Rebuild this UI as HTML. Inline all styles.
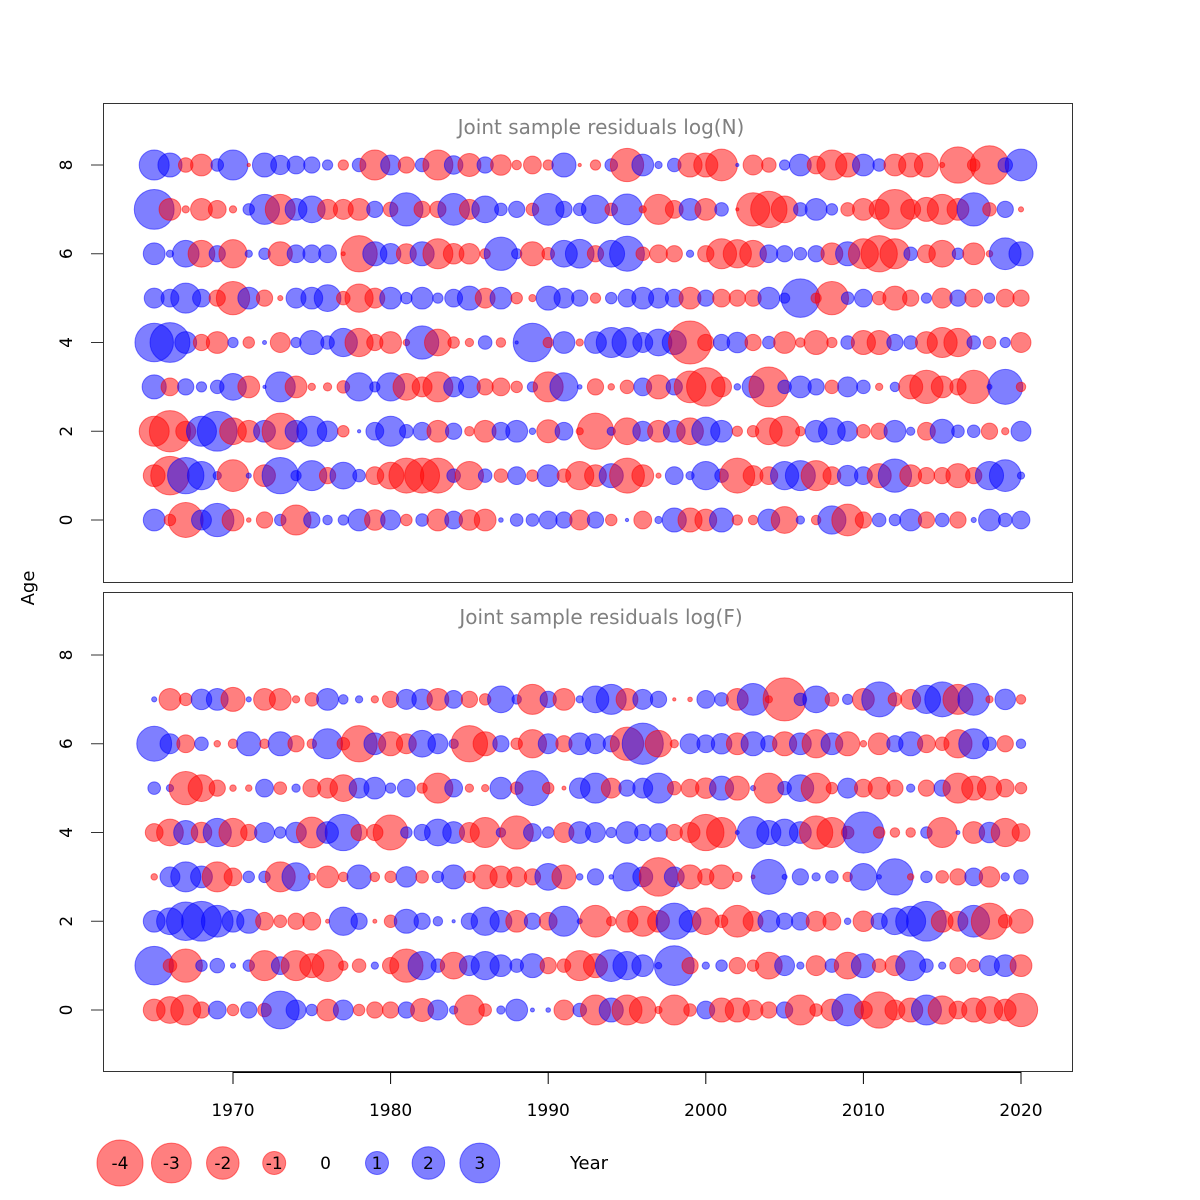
<!DOCTYPE html>
<html><head><meta charset="utf-8">
<style>
html,body{margin:0;padding:0;background:#fff;}
svg{display:block;font-family:"DejaVu Sans","Liberation Sans",sans-serif;}
</style></head>
<body>
<svg id="chart" width="1200" height="1200" viewBox="0 0 1200 1200" xmlns="http://www.w3.org/2000/svg">
  <rect x="0" y="0" width="1200" height="1200" fill="#fff"/>
  <g id="top-panel">
    <rect x="103.5" y="103.5" width="969" height="479" fill="none" stroke="#333" stroke-width="1"/>
    <text x="601" y="134" font-size="20" fill="#808080" text-anchor="middle">Joint sample residuals log(N)</text>
    <g id="top-yaxis"></g>
    <g id="top-bubbles"></g>
  </g>
  <g id="bot-panel">
    <rect x="103.5" y="592.5" width="969" height="479" fill="none" stroke="#333" stroke-width="1"/>
    <text x="601" y="624" font-size="20" fill="#808080" text-anchor="middle">Joint sample residuals log(F)</text>
    <g id="bot-yaxis"></g>
    <g id="bot-bubbles"></g>
  </g>
  <g id="xaxis"></g>
  <text x="34" y="588" font-size="18" fill="#000" text-anchor="middle" transform="rotate(-90 34 588)">Age</text>
  <g id="legend"></g>
  <text x="589" y="1169" font-size="18" fill="#000" text-anchor="middle">Year</text>
</svg>
<script>
const years = [];
for (let y = 1965; y <= 2020; y++) years.push(y);
const xTicks = [1970, 1980, 1990, 2000, 2010, 2020];
const yTicks = [0, 2, 4, 6, 8];
const legendValues = [-4, -3, -2, -1, 0, 1, 2, 3];

const topAge8 = [1.7,1.1,-0.4,-0.9,0.3,1.7,-0.02,1.1,0.7,0.6,0.5,0.2,-0.2,0.35,-1.7,0.75,-0.5,0.35,
 -1.7,0.65,-1.0,0.5,-0.8,-0.17,-0.6,-0.2,1.1,-0.02,-0.2,0.3,-2.1,0.9,0.1,0.35,-1.1,-1.1,-1.9,0.02,-0.75,
 -0.4,0.2,0.9,-0.6,-1.7,-1.1,0.9,0.3,-0.9,-1.1,-1.1,-0.05,-2.5,-0.3,-2.8,0.4,1.9];
const topAge7 = [3.0,-0.9,-0.1,-0.9,-0.6,-0.1,0.25,1.7,-1.7,0.9,1.35,-0.75,-0.75,-0.9,0.5,-0.4,2.1,-0.5,
 -0.5,1.9,-0.75,1.35,0.3,0.5,-0.3,1.9,0.5,0.3,1.5,-0.3,1.8,-0.1,-1.7,-0.6,0.9,-0.9,0.35,-0.02,-2.1,
 -2.5,-1.35,0.35,0.9,0.25,-0.35,-0.9,-0.75,-3.0,-0.75,-1.1,-1.7,-0.9,2.1,-0.35,0.5,-0.05];
const topAge6 = [0.9,0.1,1.35,-1.35,0.5,-1.5,0.1,0.25,-1.1,0.6,0.6,0.6,-0.03,-2.5,1.1,0.8,-0.75,1.1,
 -1.7,-0.8,-0.8,-0.2,2.1,0.2,-1.1,-0.3,1.35,1.55,-0.5,1.35,2.3,-0.35,-0.6,-0.5,0.1,-0.5,-1.7,-1.5,-1.35,
 0.6,0.5,0.3,0.5,-0.9,1.1,-1.7,-2.5,-1.7,0.35,-0.6,-1.35,0.25,-0.9,-0.08,1.9,1.1];
const topAge5 = [0.75,0.6,1.7,0.6,-0.5,-2.1,0.9,-0.5,-0.05,0.75,0.9,1.35,-0.35,-1.5,-0.75,0.9,0.25,0.9,
 0.2,0.6,1.1,-0.75,0.9,-0.25,-0.1,1.1,0.75,0.5,-0.2,0.25,0.6,0.9,0.75,0.6,-0.9,0.5,-0.6,-0.5,-0.5,
 0.9,0.2,2.8,-0.2,-2.1,0.3,0.6,-0.35,-1.1,-0.5,0.2,-0.75,0.5,-0.6,0.2,-0.6,-0.5];
const topAge4 = [2.8,3.0,0.9,-0.5,-0.9,0.2,-0.25,0.03,-0.75,0.2,1.1,0.35,1.5,-1.5,-0.5,-0.9,-0.08,2.1,
 -1.35,-0.25,-0.13,0.35,-0.17,0.02,2.8,-0.2,0.9,-0.1,0.9,1.7,1.7,0.75,1.35,1.1,-3.5,-0.5,0.5,0.8,-0.5,
 0.3,-0.9,-0.17,-1.1,-0.2,0.35,-1.1,-1.1,0.5,0.35,-0.9,-1.7,-1.5,0.35,-0.3,0.2,-0.75];
const topAge3 = [1.1,-0.6,0.5,0.2,0.35,1.35,-0.9,0.02,1.7,-0.9,-0.1,-0.13,-0.3,1.5,0.2,1.5,-1.35,-0.75,
 -1.7,0.75,0.9,-0.5,-0.6,-0.25,0.2,-1.7,1.5,0.04,-0.5,-0.08,-0.35,0.6,-1.1,0.5,-1.9,-2.8,-0.75,0.08,0.9,
 -3.0,0.35,0.9,0.5,-0.35,0.75,0.35,-0.1,0.17,-1.1,-2.1,-0.9,-0.5,-2.1,0.05,2.3,-0.17];
const topAge2 = [-1.7,-3.2,-0.75,1.7,3.0,-1.35,-0.9,0.9,-2.5,0.9,1.7,0.8,-0.25,0.02,0.6,1.7,0.35,0.6,
 -0.9,0.5,-0.17,-0.9,0.6,0.9,0.08,-1.0,0.6,-0.1,-2.5,0.13,-1.35,0.75,-0.9,0.9,-1.35,1.5,0.9,-0.2,-0.25,
 -1.35,-1.7,-0.17,0.9,1.35,0.75,-0.35,-0.5,0.9,0.13,-0.6,1.1,0.3,0.3,-0.5,-0.1,0.75];
const topAge1 = [-0.9,-2.8,2.5,1.5,0.13,-1.9,0.05,-0.9,2.5,0.2,1.7,-0.5,1.35,0.3,-0.6,-1.35,-2.3,-2.3,
 -2.3,0.35,-1.5,0.35,-0.35,0.6,-0.25,0.9,-0.35,-1.5,-0.9,1.1,-2.3,-0.9,-0.05,0.6,0.13,1.5,0.35,-2.3,-0.75,
 -0.6,1.5,1.7,-1.7,-0.6,0.8,0.6,-1.1,2.1,-0.9,-0.5,-0.5,-1.1,-0.5,1.5,1.9,0.1];
const topAge0 = [0.9,-0.25,-2.3,0.75,2.1,-0.9,-0.04,-0.5,0.25,-1.7,0.5,0.17,0.2,0.9,-0.8,0.75,-0.25,0.3,
 -0.9,0.6,-0.8,-0.9,0.04,0.3,0.3,0.6,0.5,-0.75,0.5,-0.25,0.02,-0.6,0.1,1.1,-1.1,-0.9,1.1,-0.2,-0.17,
 0.9,-1.35,0.13,-0.17,1.5,-1.9,-0.5,0.35,0.25,0.9,-0.5,0.35,-0.5,0.05,0.9,0.35,0.6];

const botAge7 = [0.05,-0.9,-0.3,0.8,0.9,-1.1,0.05,-0.9,-0.9,-0.1,-0.35,0.9,0.17,0.1,-0.1,-0.5,0.75,0.8,
 -0.9,0.6,-0.5,-0.25,1.35,0.17,-1.7,0.5,-0.9,0.1,1.35,1.7,-0.9,0.75,0.5,-0.02,-0.04,0.6,0.35,-0.9,1.9,
 -0.1,-3.5,0.3,1.35,-0.35,0.2,-0.9,2.3,-0.35,-0.75,1.5,2.3,-1.7,1.9,-0.1,0.8,-0.17];
const botAge6 = [2.3,0.75,-0.6,0.35,-0.08,-0.17,1.1,-0.17,1.1,-0.5,-0.17,1.7,-0.3,-2.5,0.9,-1.1,-0.75,1.35,
 0.75,0.17,-2.5,-1.1,0.5,-0.25,-1.5,0.75,-0.5,0.9,0.75,0.5,-2.1,3.2,-1.35,-0.13,0.75,0.6,0.8,-0.9,1.1,
 0.5,-1.1,0.9,-1.5,0.9,-1.1,-0.08,-0.9,0.5,1.1,-0.6,-0.35,-1.5,1.7,0.35,-0.5,0.17];
const botAge5 = [0.3,0.1,-2.1,-1.35,-0.5,-0.08,-0.08,0.6,-0.3,0.13,-0.6,-0.75,-1.35,0.75,0.9,0.2,0.6,-0.2,
 -1.7,0.6,-0.13,-0.1,0.9,-0.3,2.3,-0.25,-0.03,0.8,1.7,-0.75,0.5,0.75,1.7,-0.35,-0.6,-0.8,1.1,-1.1,0.05,
 -1.7,0.35,1.35,-1.7,-0.25,0.75,-0.6,-0.9,-0.5,0.13,-0.5,0.5,-1.7,-1.1,-1.1,-0.6,-0.25];
const botAge4 = [-0.6,-1.35,1.1,-0.8,1.5,-1.5,-0.5,0.75,0.25,0.8,-1.8,0.9,2.5,-0.5,-0.5,-2.3,0.25,0.5,
 1.35,0.9,-0.75,-1.7,0.17,-2.1,0.6,0.25,-0.75,0.9,0.75,0.2,0.9,0.5,0.6,-0.5,-0.75,-2.5,-1.7,0.03,1.9,
 1.1,1.35,0.9,-2.1,-1.7,-0.3,3.2,-0.25,-0.17,-0.17,0.25,-1.7,0.03,-0.9,0.8,-1.5,-0.6];
const botAge3 = [-0.08,0.75,1.7,0.9,-1.7,-0.6,0.25,0.25,-1.7,1.5,-0.1,-0.9,-0.17,1.1,-0.17,-0.25,0.8,-0.3,
 0.25,1.1,-0.25,-1.1,-0.9,-0.75,-0.5,1.35,-1.1,0.08,0.5,0.04,1.5,0.75,-2.8,0.75,-1.1,-0.5,-1.1,-0.17,-0.03,
 2.3,0.05,0.5,0.13,0.3,-0.17,1.35,0.04,2.5,-0.08,0.25,-0.3,-0.5,0.6,-0.8,0.13,0.4];
const botAge2 = [0.9,1.35,2.8,3.0,1.9,0.9,1.1,-0.6,-0.3,-0.5,-0.6,-0.03,1.5,0.5,-0.03,-0.3,1.1,0.5,
 0.17,0.02,0.5,1.5,0.9,-0.9,0.5,-0.6,1.7,0.05,-1.9,-0.17,-0.9,-1.7,-0.9,2.5,0.9,-1.35,-0.3,-1.9,-0.75,
 0.9,0.5,0.6,-0.75,-0.6,0.08,-0.8,0.5,1.35,1.7,3.0,-0.9,-0.75,1.9,-2.5,-0.35,-1.1];
const botAge1 = [2.8,-0.35,-2.1,0.25,0.4,0.05,0.25,-1.7,0.6,-1.7,-1.1,-1.9,-0.17,-0.35,0.1,-0.5,-2.1,1.5,
 0.35,-1.35,0.75,1.5,0.9,0.35,1.1,-0.5,-0.35,-1.7,-1.1,1.9,1.5,0.9,0.08,3.0,-0.5,0.1,0.25,-0.5,-0.25,
 -1.35,0.75,0.1,-0.75,0.35,-1.35,1.1,-0.35,-0.75,1.7,0.35,0.1,-0.5,-0.3,0.75,0.9,-0.9];
const botAge0 = [-0.9,-1.35,-1.7,-0.5,0.6,-0.25,0.5,-0.35,2.7,0.75,0.25,-0.9,0.75,-0.25,-0.5,-0.5,0.5,-1.0,
 0.75,0.13,-1.7,-0.3,0.13,0.9,0.03,0.04,-0.75,0.35,-1.7,1.1,-1.7,-1.35,-0.1,-1.7,-0.3,0.6,-1.1,-1.1,-0.75,
 -0.5,0.5,-1.7,-0.3,-0.9,1.9,-0.6,-2.5,-0.75,-1.1,1.7,-1.5,-0.6,-1.1,-1.35,-0.9,-2.1];

const topRows = [topAge0, topAge1, topAge2, topAge3, topAge4, topAge5, topAge6, topAge7, topAge8];
const botRows = [botAge0, botAge1, botAge2, botAge3, botAge4, botAge5, botAge6, botAge7];

const NS = "http://www.w3.org/2000/svg";
function xScale(yr) { return 154.2 + (yr - 1965) * 15.76; }
function yTop(a) { return 520 - a * 44.375; }
function yBot(a) { return 1010 - a * 44.375; }
function rScale(v) { return 11.5 * Math.sqrt(Math.abs(v)); }
const RED = "rgba(255,0,0,0.5)", BLUE = "rgba(0,0,255,0.5)";

function mk(tag, attrs, parent) {
  const el = document.createElementNS(NS, tag);
  for (const k in attrs) el.setAttribute(k, attrs[k]);
  parent.appendChild(el);
  return el;
}

function drawBubbles(rows, yf, g, prefix) {
  rows.forEach((vals, age) => {
    vals.forEach((v, i) => {
      if (!v) return;
      const c = mk("circle", {cx: xScale(years[i]), cy: yf(age), r: rScale(v),
        fill: v < 0 ? RED : BLUE, stroke: v < 0 ? RED : BLUE, "stroke-width": 1}, g);
      
      
    });
  });
}
drawBubbles(topRows, yTop, document.getElementById("top-bubbles"), "logN");
drawBubbles(botRows, yBot, document.getElementById("bot-bubbles"), "logF");

function drawYAxis(g, yf, prefix) {
  yTicks.forEach(t => {
    const y = yf(t);
    const tk = mk("line", {x1: 91, x2: 103, y1: y, y2: y, stroke: "#333", "stroke-width": 1}, g);
    
    
    const tx = mk("text", {x: 67, y: y, "font-size": 17, "text-anchor": "middle",
      "dominant-baseline": "central", transform: "rotate(-90 67 " + y + ")"}, g);
    tx.textContent = t;
    
    
  });
}
drawYAxis(document.getElementById("top-yaxis"), yTop, "top");
drawYAxis(document.getElementById("bot-yaxis"), yBot, "bottom");

const xg = document.getElementById("xaxis");
const base = mk("line", {x1: xScale(xTicks[0]), x2: xScale(xTicks[xTicks.length - 1]), y1: 1072.5, y2: 1072.5, stroke: "#000", "stroke-width": 1}, xg);


xTicks.forEach(t => {
  const x = xScale(t);
  const tk = mk("line", {x1: x, x2: x, y1: 1072, y2: 1084, stroke: "#000", "stroke-width": 1}, xg);
  
  
  const tx = mk("text", {x: x, y: 1116, "font-size": 17, "text-anchor": "middle"}, xg);
  tx.textContent = t;
  
  
});

const lg = document.getElementById("legend");
legendValues.forEach((v, i) => {
  const x = 120 + i * 51.4;
  if (v !== 0) {
    const c = mk("circle", {cx: x, cy: 1163, r: rScale(v), fill: v < 0 ? RED : BLUE,
      stroke: v < 0 ? RED : BLUE, "stroke-width": 1}, lg);
    
    
  }
  const tx = mk("text", {x: x, y: 1169, "font-size": 17, "text-anchor": "middle"}, lg);
  tx.textContent = v;
  
  
});
</script>
</body></html>
